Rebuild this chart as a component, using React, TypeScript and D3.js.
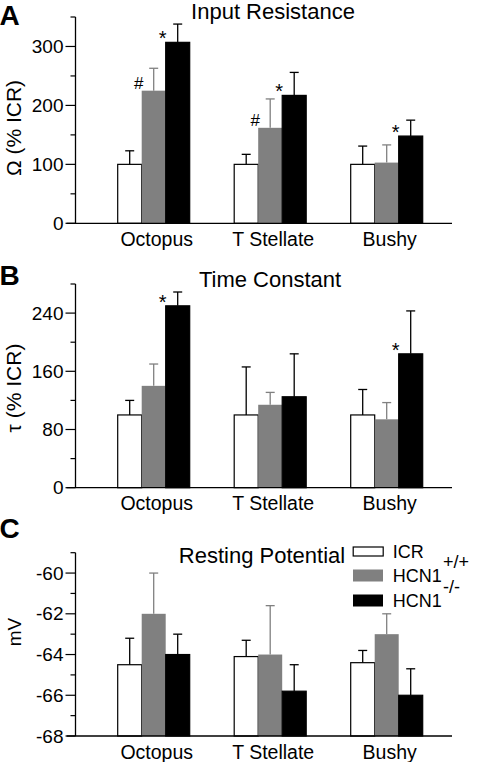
import React from 'react';
import * as d3 from 'd3';

// ---------- data ----------
const categories = ['Octopus', 'T Stellate', 'Bushy'];
const seriesKeys = ['ICR', 'HCN1+/+', 'HCN1-/-'];
const seriesFill = ['#ffffff', '#808080', '#000000'];
const errColor = ['#000000', '#808080', '#000000'];

// A: Input Resistance (% ICR)
const resICR = [100, 100, 100];
const resWT = [225, 162, 103];
const resKO = [307, 217, 148];
const resICRErr = [23, 17, 31];
const resWTErr = [38, 49, 30];
const resKOErr = [31, 39, 27];
const resTicks = [0, 100, 200, 300];
const resMinor = [50, 150, 250, 350];
const resMarks: [string, number, string][] = [
  ['Octopus', 1, '#'], ['Octopus', 2, '*'],
  ['T Stellate', 1, '#'], ['T Stellate', 2, '*'],
  ['Bushy', 2, '*'],
];

// B: Time Constant (% ICR)
const tauICR = [100, 100, 100];
const tauWT = [140, 114, 94];
const tauKO = [250, 125, 184];
const tauICRErr = [20, 66, 35];
const tauWTErr = [30, 17, 23];
const tauKOErr = [19, 59, 59];
const tauTicks = [0, 80, 160, 240];
const tauMinor = [40, 120, 200, 280];
const tauMarks: [string, number, string][] = [
  ['Octopus', 2, '*'], ['Bushy', 2, '*'],
];

// C: Resting Potential (mV)
const vmICR = [-64.5, -64.1, -64.4];
const vmWT = [-62.0, -64.0, -63.0];
const vmKO = [-64.0, -65.8, -66.0];
const vmICRErr = [1.3, 0.8, 0.6];
const vmWTErr = [2.0, 2.4, 1.0];
const vmKOErr = [1.0, 1.3, 1.3];
const vmTicks = [-68, -66, -64, -62, -60];
const vmMinor = [-67, -65, -63, -61, -59];
const vmMarks: [string, number, string][] = [];

const FONT = 'Liberation Sans, Arial, Helvetica, sans-serif';
const AXIS_X = 75.5;

type PanelProps = {
  letter: string; letterY: number;
  title: string; titleX: number; titleY: number;
  yLabel: React.ReactNode; yLabelY: number; yLabelSize: number;
  domain: [number, number]; yTop: number; yBottom: number;
  ticks: number[]; minor: number[];
  values: number[][]; errors: number[][];
  marks: [string, number, string][];
};

function Panel(p: PanelProps) {
  const y = d3.scaleLinear().domain(p.domain).range([p.yBottom, p.yTop]);
  const x = d3.scaleBand<string>().domain(categories).range([117.7, 422.7]).paddingInner(0.382).paddingOuter(0);
  const xs = d3.scaleBand<string>().domain(seriesKeys).range([0, x.bandwidth()]);
  const bw = xs.bandwidth();
  const base = p.domain[0];
  return (
    <g>
      <text x={-0.5} y={p.letterY} fontFamily={FONT} fontWeight="bold" fontSize={28}>{p.letter}</text>
      <text x={p.titleX} y={p.titleY} fontFamily={FONT} fontSize={22} textAnchor="middle">{p.title}</text>
      <text transform={`translate(20.5,${p.yLabelY}) rotate(-90)`} fontFamily={FONT} fontSize={p.yLabelSize} textAnchor="middle">{p.yLabel}</text>
      {/* bars */}
      {seriesKeys.map((s, si) =>
        categories.map((c, ci) => {
          const v = p.values[si][ci];
          const x0 = (x(c) as number) + (xs(s) as number);
          return (
            <rect key={s + c} x={x0} y={y(v)} width={bw} height={y(base) - y(v)}
              fill={seriesFill[si]} stroke={si === 1 ? 'none' : '#000'} strokeWidth={si === 1 ? 0 : 1.2} />
          );
        })
      )}
      {/* error bars */}
      {seriesKeys.map((s, si) =>
        categories.map((c, ci) => {
          const v = p.values[si][ci];
          const e = p.errors[si][ci];
          const cx = (x(c) as number) + (xs(s) as number) + bw / 2;
          return (
            <g key={'e' + s + c} stroke={errColor[si]} strokeWidth={1.3}>
              <line x1={cx} x2={cx} y1={y(v)} y2={y(v + e)} />
              <line x1={cx - 4.5} x2={cx + 4.5} y1={y(v + e)} y2={y(v + e)} />
            </g>
          );
        })
      )}
      {/* significance marks */}
      {p.marks.map(([c, si, sym], i) => {
        const v = p.values[si][categories.indexOf(c)];
        const x0 = (x(c) as number) + (xs(seriesKeys[si]) as number);
        return (
          <text key={'m' + i} x={x0 - 3} y={y(v) + (sym === '*' ? 3 : -2)} fontFamily={FONT}
            fontSize={sym === '*' ? 20 : 17} textAnchor="middle">{sym}</text>
        );
      })}
      {/* axes */}
      <line x1={AXIS_X} x2={AXIS_X} y1={p.yTop} y2={p.yBottom} stroke="#000" strokeWidth={1.3} />
      <line x1={66.7} x2={452} y1={p.yBottom} y2={p.yBottom} stroke="#000" strokeWidth={1.3} />
      {p.ticks.map(t => (
        <g key={'t' + t}>
          <line x1={AXIS_X - 10} x2={AXIS_X} y1={y(t)} y2={y(t)} stroke="#000" strokeWidth={1.2} />
          <text x={63.5} y={y(t)} dy="0.35em" textAnchor="end" fontFamily={FONT} fontSize={19}>{t}</text>
        </g>
      ))}
      {p.minor.map(t => (
        <line key={'n' + t} x1={AXIS_X - 5} x2={AXIS_X} y1={y(t)} y2={y(t)} stroke="#000" strokeWidth={1.2} />
      ))}
      {categories.map(c => (
        <text key={'c' + c} x={(x(c) as number) + x.bandwidth() / 2 + 3} y={p.yBottom + 22.5}
          textAnchor="middle" fontFamily={FONT} fontSize={19.5}>{c}</text>
      ))}
    </g>
  );
}

export default function App() {
  return (
    <svg width={477} height={762} style={{ position: 'absolute', left: 0, top: 0, background: '#fff' }}>
      <rect width={477} height={762} fill="#fff" />
      <Panel letter="A" letterY={25} title="Input Resistance" titleX={273} titleY={19}
        yLabel={'\u03A9 (% ICR)'} yLabelY={128} yLabelSize={21}
        domain={[0, 350]} yTop={17} yBottom={223.3}
        ticks={resTicks} minor={resMinor}
        values={[resICR, resWT, resKO]} errors={[resICRErr, resWTErr, resKOErr]} marks={resMarks} />
      <Panel letter="B" letterY={285} title="Time Constant" titleX={270} titleY={286.5}
        yLabel={'\u03C4  (% ICR)'} yLabelY={388} yLabelSize={21}
        domain={[0, 280]} yTop={284} yBottom={487.7}
        ticks={tauTicks} minor={tauMinor}
        values={[tauICR, tauWT, tauKO]} errors={[tauICRErr, tauWTErr, tauKOErr]} marks={tauMarks} />
      <Panel letter="C" letterY={537.7} title="Resting Potential" titleX={262} titleY={563.3}
        yLabel="mV" yLabelY={632} yLabelSize={19}
        domain={[-68, -59]} yTop={552.7} yBottom={736}
        ticks={vmTicks} minor={vmMinor}
        values={[vmICR, vmWT, vmKO]} errors={[vmICRErr, vmWTErr, vmKOErr]} marks={vmMarks} />
      {/* legend */}
      <g fontFamily={FONT}>
        <rect x={353.2} y={547} width={30} height={9} fill="#fff" stroke="#000" strokeWidth={1.2} />
        <rect x={353} y={569.5} width={30} height={12} fill={seriesFill[1]} />
        <rect x={353} y={594.5} width={30} height={12} fill={seriesFill[2]} />
        <text x={392.7} y={557.5} fontSize={18}>ICR</text>
        <text x={392.7} y={581.5} fontSize={18}>HCN1</text>
        <text x={443} y={568} fontSize={18}>+/+</text>
        <text x={392.7} y={606.5} fontSize={18}>HCN1</text>
        <text x={443} y={593} fontSize={18}>-/-</text>
      </g>
    </svg>
  );
}
